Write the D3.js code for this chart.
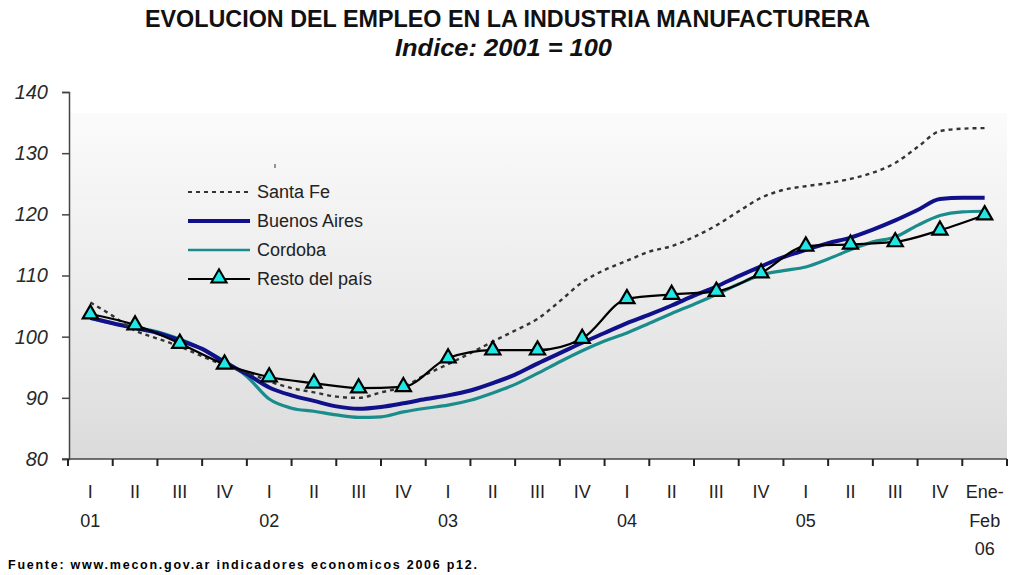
<!DOCTYPE html>
<html>
<head>
<meta charset="utf-8">
<script src="https://cdn.jsdelivr.net/npm/d3@7"></script>
<style>
	body { margin: 0; background: #fff; }
	text { font-family: "Liberation Sans", Arial, sans-serif; }
</style>
</head>
<body>
<script>
// trimestres (categorias del eje x)
var quarters = ["I", "II", "III", "IV", "I", "II", "III", "IV", "I", "II", "III", "IV",
	"I", "II", "III", "IV", "I", "II", "III", "IV", "Ene-"];
var years = ["01", "", "", "", "02", "", "", "", "03", "", "", "", "04", "", "", "", "05", "", "", "", "Feb"];
var yTicks = [80, 90, 100, 110, 120, 130, 140];

// posicion en trimestres (0 = I 2001) de las series mensuales suavizadas
var steps = [0, 0.5, 1, 1.5, 2, 2.5, 3, 3.5, 4, 4.5, 5, 5.5, 6, 6.5, 7, 7.5, 8, 8.5, 9, 9.5,
	10, 10.5, 11, 11.5, 12, 12.5, 13, 13.5, 14, 14.5, 15, 15.5, 16, 16.5, 17, 17.5, 18, 18.5, 19, 19.5, 20];

var santaFe = [105.6, 103.4, 101.0, 99.7, 98.4, 96.8, 95.3, 94.2, 92.7, 91.6, 90.9, 90.2, 90.0, 90.9,
	91.8, 93.8, 95.5, 97.3, 99.2, 101.0, 102.9, 105.8, 108.9, 110.9, 112.4, 113.9, 114.8, 116.3,
	118.2, 120.5, 122.7, 124.0, 124.6, 125.1, 125.8, 126.8, 128.4, 131.0, 133.6, 134.0, 134.1];

var buenosAires = [103.1, 102.2, 101.4, 100.6, 99.4, 98.0, 95.8, 93.9, 91.7, 90.4, 89.5, 88.6, 88.2, 88.5,
	89.1, 89.8, 90.4, 91.2, 92.4, 93.8, 95.6, 97.3, 99.0, 100.6, 102.2, 103.6, 105.1, 106.7,
	108.2, 109.9, 111.5, 113.0, 114.2, 115.3, 116.2, 117.5, 119.0, 120.7, 122.5, 122.7, 122.7];

var cordoba = [103.0, 102.2, 101.5, 100.8, 99.6, 98.0, 96.0, 93.5, 89.8, 88.3, 87.8, 87.2, 86.8, 86.9,
	87.7, 88.3, 88.8, 89.6, 90.8, 92.2, 94.0, 95.9, 97.7, 99.3, 100.6, 102.2, 103.8, 105.3,
	106.9, 108.6, 110.1, 110.8, 111.4, 112.7, 114.2, 115.5, 116.3, 118.2, 119.8, 120.4, 120.5];

// resto del pais: un valor por trimestre
var resto = [103.7, 101.9, 98.9, 95.5, 93.4, 92.4, 91.6, 91.8, 96.5, 97.8, 97.8, 99.7,
	106.2, 106.9, 107.4, 110.4, 114.8, 115.1, 115.5, 117.4, 119.9];

var width = 1013;
var height = 575;
var plotLeft = 69;
var plotRight = 1007;
var plotTop = 92;
var plotBottom = 459;

var svg = d3.select("body")
	.append("svg")
	.attr("width", width)
	.attr("height", height);

var idx = quarters.map(function (d, i) { return i; });

var x = d3.scaleBand()
	.domain(idx)
	.range([plotLeft - 1, plotRight]);

var xs = d3.scaleLinear()
	.domain([0, 20])
	.range([x(0) + x.bandwidth() / 2, x(20) + x.bandwidth() / 2]);

var y = d3.scaleLinear()
	.domain([80, 140])
	.range([plotBottom, plotTop]);

// fondo degradado del area de grafico
var grad = svg.append("defs")
	.append("linearGradient")
	.attr("id", "bg")
	.attr("x1", 0).attr("y1", 0)
	.attr("x2", 0).attr("y2", 1);
grad.append("stop").attr("offset", "0%").attr("stop-color", "#fbfbfb");
grad.append("stop").attr("offset", "50%").attr("stop-color", "#ececec");
grad.append("stop").attr("offset", "100%").attr("stop-color", "#dbdbdb");

svg.append("rect")
	.attr("x", plotLeft)
	.attr("y", 113)
	.attr("width", plotRight - plotLeft)
	.attr("height", plotBottom - 113)
	.attr("fill", "url(#bg)");

// titulos
svg.append("text")
	.attr("x", 145)
	.attr("y", 27)
	.attr("font-size", "23px")
	.attr("font-weight", "bold")
	.attr("textLength", 725)
	.attr("lengthAdjust", "spacingAndGlyphs")
	.attr("fill", "#111")
	.text("EVOLUCION DEL EMPLEO EN LA INDUSTRIA MANUFACTURERA");

svg.append("text")
	.attr("x", 395)
	.attr("y", 56)
	.attr("font-size", "23px")
	.attr("font-weight", "bold")
	.attr("font-style", "italic")
	.attr("textLength", 217)
	.attr("lengthAdjust", "spacingAndGlyphs")
	.attr("fill", "#111")
	.text("Indice: 2001 = 100");

// eje y
var yAxis = svg.append("g")
	.attr("transform", "translate(" + plotLeft + ",0)")
	.call(d3.axisLeft(y).tickValues(yTicks).tickSize(7).tickPadding(14));
yAxis.select(".domain").attr("stroke", "#444").attr("stroke-width", 1.5);
yAxis.selectAll(".tick line").attr("stroke", "#444").attr("stroke-width", 1.5);
yAxis.selectAll(".tick text")
	.attr("font-size", "20px")
	.attr("font-style", "italic")
	.attr("font-family", "Liberation Sans, Arial, sans-serif")
	.attr("fill", "#2a2a2a");

// eje x
svg.append("line")
	.attr("x1", plotLeft - 7)
	.attr("x2", plotRight)
	.attr("y1", plotBottom)
	.attr("y2", plotBottom)
	.attr("stroke", "#444")
	.attr("stroke-width", 1.5);

svg.append("g")
	.selectAll("line")
	.data(idx.concat([21]))
	.enter()
	.append("line")
	.attr("x1", function (d) { return d < 21 ? x(d) : plotRight; })
	.attr("x2", function (d) { return d < 21 ? x(d) : plotRight; })
	.attr("y1", plotBottom)
	.attr("y2", plotBottom + 7)
	.attr("stroke", "#222")
	.attr("stroke-width", 2);

svg.append("g")
	.selectAll("text")
	.data(idx)
	.enter()
	.append("text")
	.attr("x", function (d) { return x(d) + x.bandwidth() / 2; })
	.attr("y", 498)
	.attr("text-anchor", "middle")
	.attr("font-size", "18px")
	.attr("fill", "#222")
	.text(function (d) { return quarters[d]; });

svg.append("g")
	.selectAll("text")
	.data(idx.filter(function (d) { return years[d] !== ""; }))
	.enter()
	.append("text")
	.attr("x", function (d) { return x(d) + x.bandwidth() / 2; })
	.attr("y", 527)
	.attr("text-anchor", "middle")
	.attr("font-size", "18px")
	.attr("fill", "#222")
	.text(function (d) { return years[d]; });

svg.append("text")
	.attr("x", x(20) + x.bandwidth() / 2)
	.attr("y", 555)
	.attr("text-anchor", "middle")
	.attr("font-size", "18px")
	.attr("fill", "#222")
	.text("06");

// lineas
var smooth = d3.line()
	.x(function (d, i) { return xs(steps[i]); })
	.y(function (d) { return y(d); })
	.curve(d3.curveMonotoneX);

svg.append("path")
	.attr("d", smooth(cordoba))
	.attr("fill", "none")
	.attr("stroke", "#1a8c8c")
	.attr("stroke-width", 3.2);

svg.append("path")
	.attr("d", smooth(buenosAires))
	.attr("fill", "none")
	.attr("stroke", "#10108a")
	.attr("stroke-width", 4);

svg.append("path")
	.attr("d", smooth(santaFe))
	.attr("fill", "none")
	.attr("stroke", "#333")
	.attr("stroke-width", 2.4)
	.attr("stroke-dasharray", "4,4");

var restoLine = d3.line()
	.x(function (d, i) { return xs(i); })
	.y(function (d) { return y(d); })
	.curve(d3.curveMonotoneX);

svg.append("path")
	.attr("d", restoLine(resto))
	.attr("fill", "none")
	.attr("stroke", "#000")
	.attr("stroke-width", 2.2);

var tri = d3.symbol().type(d3.symbolTriangle).size(100);

svg.append("g")
	.selectAll("path")
	.data(resto)
	.enter()
	.append("path")
	.attr("d", tri)
	.attr("transform", function (d, i) { return "translate(" + xs(i) + "," + y(d) + ")"; })
	.attr("fill", "#20e6e6")
	.attr("stroke", "#000")
	.attr("stroke-width", 2.2);

// leyenda
var legend = [
	{ name: "Santa Fe", color: "#333", w: 2, dash: "4,4" },
	{ name: "Buenos Aires", color: "#10108a", w: 4, dash: null },
	{ name: "Cordoba", color: "#1a8c8c", w: 2.5, dash: null },
	{ name: "Resto del país", color: "#000", w: 2.2, dash: null }
];

var lg = svg.append("g")
	.selectAll("g")
	.data(legend)
	.enter()
	.append("g")
	.attr("transform", function (d, i) { return "translate(0," + (192 + i * 29) + ")"; });

lg.append("line")
	.attr("x1", 188)
	.attr("x2", 250)
	.attr("stroke", function (d) { return d.color; })
	.attr("stroke-width", function (d) { return d.w; })
	.attr("stroke-dasharray", function (d) { return d.dash; });

lg.append("text")
	.attr("x", 257)
	.attr("y", 6)
	.attr("font-size", "18px")
	.attr("fill", "#222")
	.text(function (d) { return d.name; });

lg.filter(function (d, i) { return i === 3; })
	.append("path")
	.attr("d", tri)
	.attr("transform", "translate(219,-1)")
	.attr("fill", "#20e6e6")
	.attr("stroke", "#000")
	.attr("stroke-width", 2);

// pequeña marca suelta sobre la leyenda
svg.append("line")
	.attr("x1", 275).attr("x2", 275)
	.attr("y1", 164).attr("y2", 168)
	.attr("stroke", "#333");

// fuente
svg.append("text")
	.attr("x", 8)
	.attr("y", 569)
	.attr("font-size", "12.5px")
	.attr("font-weight", "bold")
	.attr("textLength", 469)
	.attr("fill", "#000")
	.text("Fuente: www.mecon.gov.ar indicadores economicos 2006 p12.");
</script>
</body>
</html>
